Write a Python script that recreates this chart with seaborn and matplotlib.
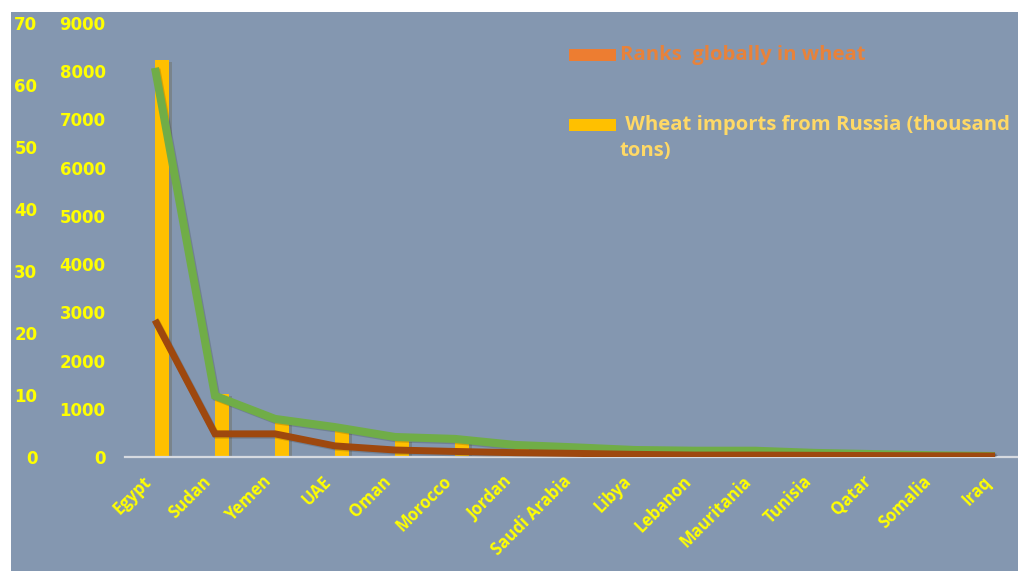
import numpy as np
import pandas as pd
import matplotlib
matplotlib.use("Agg")
import matplotlib.pyplot as plt
import matplotlib.patheffects as pe
from matplotlib.patches import Rectangle
import seaborn as sns

# --- data -------------------------------------------------------------
countries = ["Egypt", "Sudan", "Yemen", "UAE", "Oman", "Morocco", "Jordan",
             "Saudi Arabia", "Libya", "Lebanon", "Mauritania", "Tunisia",
             "Qatar", "Somalia", "Iraq"]
# global rank in wheat imports
ranks = [1, 21, 17, 24, 29, 7, 33, 11, 31, 40, 45, 19, 60, 55, 75]
# wheat imports from Russia (thousand tons)
imports_russia = [8230, 1300, 700, 560, 350, 310, 190, 110, 90, 70, 60, 50, 40, 30, 5]
# companion trend lines (thousand tons)
green_line = [8070, 1270, 790, 620, 415, 375, 250, 200, 145, 130, 130, 85, 60, 35, 20]
brown_line = [2840, 480, 480, 230, 145, 115, 90, 75, 55, 40, 40, 35, 30, 25, 20]

rank_ticks = list(range(0, 71, 10))
import_ticks = list(range(0, 9001, 1000))

rank_label = "Ranks  globally in wheat"
import_label = " Wheat imports from Russia (thousand\ntons)"

# --- style ------------------------------------------------------------
BG = "#8497B0"
GOLD = "#FFC000"
ORANGE = "#ED7D31"
GREEN = "#70AD47"
BROWN = "#9E480E"
TICK_YELLOW = "#FFFF00"

sns.set_theme(style="white")
plt.rcParams["font.family"] = ["DejaVu Sans"]

W, H = 1018, 571
fig = plt.figure(figsize=(W / 100, H / 100), dpi=100, facecolor="white")

# slate panel behind the chart
fig.patches.append(Rectangle((11 / W, 0), 1 - 11 / W, 1 - 12 / H,
                             transform=fig.transFigure, facecolor=BG,
                             edgecolor="none", zorder=-5))

ax_left, ax_right = 125, 1018
ax_top, ax_bottom = 23, 457
ax = fig.add_axes([ax_left / W, 1 - ax_bottom / H,
                   (ax_right - ax_left) / W, (ax_bottom - ax_top) / H])
ax.set_facecolor("none")
ax.set_zorder(2)

bars = pd.DataFrame({
    "country": countries * 2,
    "series": [rank_label] * len(countries) + [import_label] * len(countries),
    "value": ranks + imports_russia,
})
sns.barplot(data=bars, x="country", y="value", hue="series",
            hue_order=[rank_label, import_label], palette=[ORANGE, GOLD],
            width=0.47, gap=0, saturation=1, dodge=True, legend=False,
            edgecolor="none", linewidth=0, ax=ax)
for p in ax.patches:
    p.set_path_effects([pe.SimplePatchShadow(offset=(2, -1), alpha=0.2), pe.Normal()])

xpos = np.arange(len(countries))
shadow = [pe.SimpleLineShadow(offset=(1, -1), alpha=0.18), pe.Normal()]
sns.lineplot(x=xpos, y=green_line, sort=False, color=GREEN, linewidth=5.8,
             ax=ax, zorder=4, path_effects=shadow)
sns.lineplot(x=xpos, y=brown_line, sort=False, color=BROWN, linewidth=5.0,
             ax=ax, zorder=5, path_effects=shadow)
for ln in ax.lines:
    ln.set_solid_joinstyle("miter")
    ln.set_solid_capstyle("butt")

ax.set_xlim(-0.5, -0.5 + (ax_right - ax_left) / 60)
ax.set_ylim(0, 9000)
ax.set_yticks(import_ticks)
ax.set_xlabel("")
ax.set_ylabel("")
ax.tick_params(axis="y", length=0, pad=14, colors=TICK_YELLOW, labelsize=12)
for t in ax.get_yticklabels():
    t.set_fontweight("bold")
ax.tick_params(axis="x", length=0, pad=11)
ax.set_xticks(xpos)
ax.set_xticklabels(countries, rotation=45, ha="right", color=TICK_YELLOW,
                   fontsize=12, fontweight="bold", family=["Open Sans", "DejaVu Sans"])
for side in ("left", "right", "top"):
    ax.spines[side].set_visible(False)
ax.spines["bottom"].set_color("#D6DAE0")
ax.spines["bottom"].set_linewidth(1.6)

# rank scale, shown on the far left
ax2 = ax.twinx()
ax2.set_ylim(0, 70)
ax2.set_yticks(rank_ticks)
ax2.yaxis.set_ticks_position("left")
ax2.tick_params(axis="y", length=0, pad=63, colors=TICK_YELLOW, labelsize=12,
                labelleft=True, labelright=False)
for t in ax2.get_yticklabels():
    t.set_fontweight("bold")
for s in ax2.spines.values():
    s.set_visible(False)
ax2.set_facecolor("none")

# legend
def px(x, y):
    return x / W, 1 - y / H

leg_font = dict(fontsize=14.6, fontweight="bold", family=["Open Sans", "DejaVu Sans"])
fig.patches.append(Rectangle(px(569, 61), 47 / W, 12 / H, transform=fig.transFigure,
                             facecolor=ORANGE, edgecolor="none", zorder=3))
fig.text(*px(620, 55), rank_label, color="#E8823A", va="center", ha="left", **leg_font)
fig.patches.append(Rectangle(px(569, 131), 47 / W, 12 / H, transform=fig.transFigure,
                             facecolor=GOLD, edgecolor="none", zorder=3))
fig.text(*px(620, 138), import_label, color="#FFD966", va="center", ha="left",
         linespacing=1.35, **leg_font)

fig.savefig("out.png", dpi=100, facecolor="white")
